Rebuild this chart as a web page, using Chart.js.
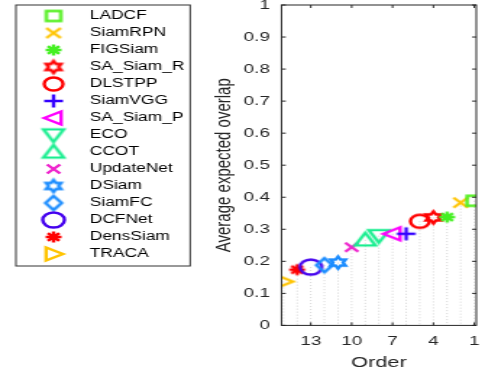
<!DOCTYPE html>
<html>
<head>
<meta charset="utf-8">
<script src="https://cdn.jsdelivr.net/npm/chart.js@4.4.1/dist/chart.umd.min.js"></script>
<style>
  html, body { margin: 0; padding: 0; background: #fff; }
  #eaoChart { display: block; }
</style>
</head>
<body>
<!-- the source figure is stretched sideways, so the canvas is drawn narrow and widened by its inline style -->
<canvas id="eaoChart" width="335" height="375" style="width:485px;height:375px;"></canvas>
<script>
var trackerNames = ['LADCF', 'SiamRPN', 'FIGSiam', 'SA_Siam_R', 'DLSTPP', 'SiamVGG', 'SA_Siam_P', 'ECO', 'CCOT', 'UpdateNet', 'DSiam', 'SiamFC', 'DCFNet', 'DensSiam', 'TRACA'];
var trackerOrder = [1, 2, 3, 4, 5, 6, 7, 8, 9, 10, 11, 12, 13, 14, 15];
var trackerEAO = [0.389, 0.383, 0.338, 0.337, 0.325, 0.286, 0.286, 0.280, 0.267, 0.244, 0.196, 0.188, 0.182, 0.174, 0.137];
var orderTicks = [13, 10, 7, 4, 1];

var trackerColors = ['#55f022', '#ffc400', '#44f022', '#ff0000', '#ff0000', '#3300ff', '#ff00ff', '#1aee90', '#1aee90', '#ee22cc', '#1a8cff', '#1a8cff', '#4400ee', '#ff0000', '#ffc400'];
var trackerMarkers = ['square', 'x', 'asterisk', 'hexagram', 'circle', 'plus', 'triLeft', 'triDown', 'triUp', 'x', 'hexagram', 'diamond', 'circle', 'asterisk', 'triRight'];
var markerSize = [10, 10, 11, 12, 13, 13, 13, 14, 14, 9, 12, 14, 15, 11, 13];

var FONT = '"Liberation Sans", Arial, Helvetica, sans-serif';
var AXIS_COLOR = '#262626';

function makeMarker(shape, color, size) {
  var lw = 2.4;
  var c = document.createElement('canvas');
  c.width = c.height = Math.ceil(size + lw * 2 + 2);
  var g = c.getContext('2d');
  var m = c.width / 2, r = size / 2;
  g.strokeStyle = color;
  g.lineWidth = lw;
  g.lineJoin = 'miter';
  g.beginPath();
  if (shape === 'square') {
    g.rect(m - r, m - r, size, size);
  } else if (shape === 'x') {
    g.moveTo(m - r, m - r); g.lineTo(m + r, m + r);
    g.moveTo(m + r, m - r); g.lineTo(m - r, m + r);
  } else if (shape === 'plus') {
    g.moveTo(m - r, m); g.lineTo(m + r, m);
    g.moveTo(m, m - r); g.lineTo(m, m + r);
  } else if (shape === 'asterisk') {
    var d = r * 0.72;
    g.moveTo(m - r, m); g.lineTo(m + r, m);
    g.moveTo(m, m - r); g.lineTo(m, m + r);
    g.moveTo(m - d, m - d); g.lineTo(m + d, m + d);
    g.moveTo(m + d, m - d); g.lineTo(m - d, m + d);
  } else if (shape === 'circle') {
    g.arc(m, m, r, 0, Math.PI * 2);
  } else if (shape === 'hexagram') {
    for (var k = 0; k < 12; k++) {
      var a = -Math.PI / 2 + k * Math.PI / 6;
      var rr = k % 2 === 0 ? r : r * 0.577;
      var px = m + rr * Math.cos(a), py = m + rr * Math.sin(a);
      if (k === 0) g.moveTo(px, py); else g.lineTo(px, py);
    }
    g.closePath();
  } else if (shape === 'diamond') {
    g.moveTo(m, m - r); g.lineTo(m + r * 0.8, m); g.lineTo(m, m + r); g.lineTo(m - r * 0.8, m);
    g.closePath();
  } else if (shape === 'triUp') {
    g.moveTo(m, m - r); g.lineTo(m + r, m + r * 0.8); g.lineTo(m - r, m + r * 0.8);
    g.closePath();
  } else if (shape === 'triDown') {
    g.moveTo(m, m + r); g.lineTo(m + r, m - r * 0.8); g.lineTo(m - r, m - r * 0.8);
    g.closePath();
  } else if (shape === 'triLeft') {
    g.moveTo(m - r, m); g.lineTo(m + r * 0.8, m - r); g.lineTo(m + r * 0.8, m + r);
    g.closePath();
  } else if (shape === 'triRight') {
    g.moveTo(m + r, m); g.lineTo(m - r * 0.8, m - r); g.lineTo(m - r * 0.8, m + r);
    g.closePath();
  }
  g.stroke();
  return c;
}

var datasets = trackerNames.map(function(name, i) {
  var marker = makeMarker(trackerMarkers[i], trackerColors[i], markerSize[i]);
  return {
    label: name,
    data: [{ x: trackerOrder[i], y: trackerEAO[i] }],
    pointStyle: marker,
    borderColor: trackerColors[i],
    backgroundColor: trackerColors[i],
    showLine: false
  };
});

// dotted drop lines, boxed axes with inward ticks, legend frame
var matlabFrame = {
  id: 'matlabFrame',
  beforeDatasetsDraw: function(chart) {
    var ctx = chart.ctx, area = chart.chartArea;
    ctx.save();
    ctx.strokeStyle = '#d4d4d4';
    ctx.lineWidth = 1;
    ctx.setLineDash([1, 2]);
    chart.data.datasets.forEach(function(ds, i) {
      var pt = chart.getDatasetMeta(i).data[0];
      if (!pt) return;
      ctx.beginPath();
      ctx.moveTo(pt.x, pt.y);
      ctx.lineTo(pt.x, area.bottom);
      ctx.stroke();
    });
    ctx.restore();
  },
  afterDraw: function(chart) {
    var ctx = chart.ctx, area = chart.chartArea;
    var xs = chart.scales.x, ys = chart.scales.y;
    ctx.save();
    ctx.strokeStyle = AXIS_COLOR;
    ctx.lineWidth = 1;
    ctx.strokeRect(area.left, area.top, area.right - area.left, area.bottom - area.top);
    ctx.beginPath();
    orderTicks.forEach(function(v) {
      var px = xs.getPixelForValue(v);
      ctx.moveTo(px, area.bottom); ctx.lineTo(px, area.bottom - 3);
      ctx.moveTo(px, area.top); ctx.lineTo(px, area.top + 3);
    });
    ys.ticks.forEach(function(t) {
      var py = ys.getPixelForValue(t.value);
      ctx.moveTo(area.left, py); ctx.lineTo(area.left + 3, py);
      ctx.moveTo(area.right, py); ctx.lineTo(area.right - 3, py);
    });
    ctx.stroke();

    var boxes = chart.legend.legendHitBoxes;
    var l = Infinity, t = Infinity, r = -Infinity, b = -Infinity;
    boxes.forEach(function(h) {
      l = Math.min(l, h.left); t = Math.min(t, h.top);
      r = Math.max(r, h.left + h.width); b = Math.max(b, h.top + h.height);
    });
    ctx.strokeStyle = '#333';
    ctx.strokeRect(l - 7, t - 5, r - l + 11, b - t + 11);
    ctx.restore();
  }
};

new Chart(document.getElementById('eaoChart'), {
  type: 'scatter',
  data: { datasets: datasets },
  plugins: [matlabFrame],
  options: {
    responsive: false,
    devicePixelRatio: 1,
    animation: false,
    layout: { padding: { left: 13, top: 5, right: 6, bottom: 2 } },
    plugins: {
      tooltip: { enabled: false },
      legend: {
        position: 'left',
        align: 'start',
        maxWidth: 130,
        labels: {
          usePointStyle: true,
          pointStyleWidth: 38,
          boxHeight: 12,
          padding: 5,
          color: '#000',
          font: { family: FONT, size: 12 }
        }
      }
    },
    scales: {
      x: {
        type: 'linear',
        reverse: true,
        min: 0.85,
        max: 15.15,
        grid: { display: false, drawTicks: true, tickLength: 8 },
        border: { display: false },
        afterBuildTicks: function(scale) {
          scale.ticks = orderTicks.map(function(v) { return { value: v }; });
        },
        ticks: { color: AXIS_COLOR, padding: 0, autoSkip: false, maxRotation: 0, font: { family: FONT, size: 13 } },
        title: { display: true, text: 'Order', color: AXIS_COLOR, padding: { top: 5, bottom: 1 }, font: { family: FONT, size: 15 } }
      },
      y: {
        min: 0,
        max: 1,
        grid: { display: false, drawTicks: true, tickLength: 8 },
        border: { display: false },
        ticks: {
          stepSize: 0.1,
          color: AXIS_COLOR,
          padding: 0,
          font: { family: FONT, size: 13, lineHeight: 0.1 },
          callback: function(v) { return String(Math.round(v * 10) / 10); }
        },
        title: { display: true, text: 'Average expected overlap', color: AXIS_COLOR, padding: { top: 8, bottom: 5 }, font: { family: FONT, size: 15 } }
      }
    }
  }
});
</script>
</body>
</html>
